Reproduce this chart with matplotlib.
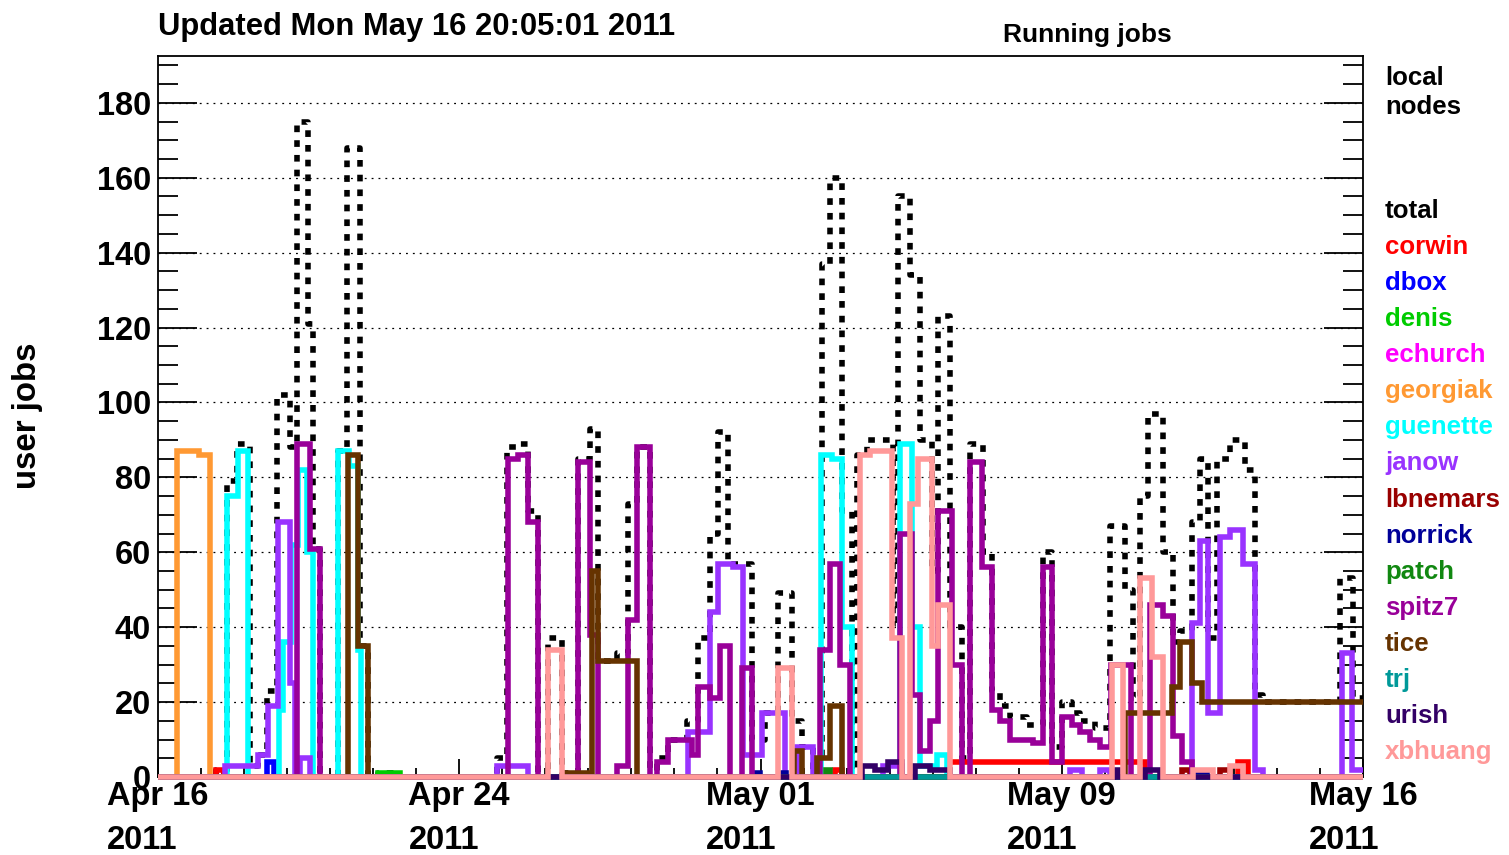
import numpy as np
import matplotlib
matplotlib.use("Agg")
import matplotlib.pyplot as plt
import matplotlib.dates as mdates
from matplotlib.ticker import FixedLocator, MultipleLocator

plt.rcParams['font.family'] = ['Liberation Sans', 'DejaVu Sans']

# ---------------- data ----------------
START = np.datetime64('2011-04-16T20:05:01')
SPAN_DAYS = 30.0   # plotted range: Apr 16 20:05 -> May 16 20:05
# each series: (days since START, running jobs) step points, value holds until next point

total = [(1.44, 2), (1.64, 0), (1.72, 79), (1.97, 89), (2.29, 3), (2.49, 6), (2.71, 23),
         (2.96, 102), (3.29, 88), (3.46, 175), (3.73, 121), (3.86, 61), (4.03, 0),
         (4.48, 87), (4.71, 168), (5.03, 35), (5.23, 0), (5.48, 1), (6.02, 0),
         (8.44, 5), (8.69, 88), (8.94, 89), (9.21, 71), (9.46, 0), (9.71, 37), (10.06, 1),
         (10.46, 85), (10.76, 93), (10.95, 31), (11.43, 33), (11.70, 73), (11.93, 88),
         (12.25, 0), (12.42, 5), (12.70, 10), (13.17, 15), (13.44, 37), (13.74, 65),
         (13.94, 92), (14.19, 57), (14.79, 10), (15.11, 17), (15.44, 49), (15.78, 15),
         (16.03, 8), (16.31, 0), (16.41, 5), (16.53, 137), (16.73, 160), (17.03, 71),
         (17.28, 0), (17.40, 86), (17.65, 90), (18.30, 40), (18.42, 155), (18.72, 134),
         (18.97, 90), (19.27, 55), (19.42, 123), (19.72, 40), (20.02, 5), (20.22, 89),
         (20.54, 60), (20.76, 23), (20.96, 19), (21.21, 16), (21.63, 14), (22.03, 60),
         (22.26, 8), (22.51, 20), (22.76, 17), (22.95, 15), (23.33, 13), (23.70, 67),
         (24.07, 50), (24.27, 21), (24.45, 75), (24.65, 97), (25.02, 60), (25.27, 36),
         (25.44, 39), (25.74, 68), (25.94, 85), (26.14, 37), (26.36, 85), (26.69, 90),
         (27.06, 82), (27.31, 22), (27.51, 20), (29.43, 53), (29.75, 21)]
corwin = [(1.44, 2), (1.64, 0), (16.85, 2), (17.03, 0), (19.67, 4), (24.57, 0),
          (26.89, 4), (27.14, 0)]
dbox = [(2.71, 4), (2.89, 0)]
denis = [(5.48, 1), (6.02, 0)]
echurch = []
georgiak = [(0.47, 87), (1.02, 86), (1.29, 0)]
guenette = [(1.72, 75), (1.99, 87), (2.24, 0), (3.01, 18), (3.11, 36), (3.31, 62),
            (3.49, 82), (3.71, 60), (3.86, 0), (4.48, 87), (4.76, 83), (4.98, 34),
            (5.05, 0), (16.51, 86), (16.78, 85), (17.03, 40), (17.28, 0), (18.47, 89),
            (18.77, 40), (18.97, 3), (19.39, 6), (19.64, 0)]
janow = [(1.67, 3), (2.49, 6), (2.74, 19), (2.99, 68), (3.29, 25), (3.41, 0), (3.54, 5),
         (3.78, 0), (8.44, 3), (9.21, 0), (13.19, 12), (13.74, 44), (13.94, 57),
         (14.31, 56), (14.56, 6), (15.04, 17), (15.61, 0), (15.91, 8), (16.31, 0),
         (18.05, 3), (18.52, 0), (22.71, 2), (23.00, 0), (23.45, 2), (23.70, 0),
         (25.74, 41), (25.94, 63), (26.14, 17), (26.44, 64), (26.69, 66), (27.01, 57),
         (27.31, 2), (27.51, 0), (29.48, 33), (29.73, 2)]
lbnemars = [(25.49, 2), (25.69, 0), (26.44, 2), (26.69, 0)]
norrick = [(14.86, 1), (14.99, 0), (15.56, 1), (15.64, 0), (25.82, 1), (26.12, 0)]
patch = [(16.63, 2), (16.73, 0)]
spitz7 = [(3.46, 89), (3.78, 61), (4.03, 0), (8.71, 85), (8.96, 86), (9.21, 68), (9.46, 0),
          (10.46, 84), (10.76, 38), (10.95, 0), (11.43, 3), (11.70, 42), (11.93, 88),
          (12.25, 0), (12.42, 4), (12.70, 10), (13.29, 6), (13.44, 24), (13.74, 21),
          (13.99, 35), (14.24, 0), (14.54, 29), (14.79, 0), (16.48, 34), (16.73, 57),
          (16.98, 30), (17.23, 0), (18.47, 65), (18.77, 22), (18.97, 7), (19.22, 15),
          (19.42, 71), (19.77, 30), (20.02, 0), (20.22, 84), (20.51, 56), (20.76, 18),
          (20.96, 15), (21.21, 10), (21.78, 9), (22.03, 56), (22.26, 4), (22.51, 16),
          (22.76, 14), (22.95, 12), (23.20, 10), (23.45, 8), (23.73, 30), (24.22, 0),
          (24.70, 46), (25.02, 43), (25.27, 11), (25.49, 4), (25.74, 0)]
tice = [(4.73, 86), (4.98, 35), (5.23, 0), (10.08, 1), (10.80, 55), (10.95, 31),
        (11.93, 0), (15.83, 7), (16.03, 0), (16.41, 5), (16.73, 19), (17.03, 0),
        (24.07, 17), (25.24, 24), (25.44, 36), (25.74, 25), (25.99, 20)]
trj = []
urish = [(17.53, 3), (17.85, 2), (18.17, 4), (18.52, 0), (18.85, 3), (19.22, 2),
         (19.72, 0), (23.78, 2), (23.90, 0), (24.57, 2), (24.95, 0)]
xbhuang = [(9.71, 34), (10.06, 0), (15.44, 29), (15.78, 0), (17.48, 86), (17.73, 87),
           (18.27, 37), (18.52, 0), (18.72, 73), (18.92, 85), (19.27, 35), (19.42, 46),
           (19.72, 0), (23.75, 30), (24.02, 0), (24.45, 53), (24.75, 32), (25.02, 0),
           (25.77, 2), (26.27, 0), (26.69, 3), (27.01, 0)]

user_names = ['total', 'corwin', 'dbox', 'denis', 'echurch', 'georgiak', 'guenette',
              'janow', 'lbnemars', 'norrick', 'patch', 'spitz7', 'tice', 'trj',
              'urish', 'xbhuang']
user_series = [total, corwin, dbox, denis, echurch, georgiak, guenette, janow, lbnemars,
               norrick, patch, spitz7, tice, trj, urish, xbhuang]
user_colors = ['#000000', '#ff0000', '#0000ff', '#00cc00', '#ff00ff', '#ff9933',
               '#00ffff', '#9933ff', '#990000', '#000099', '#118811', '#990099',
               '#663300', '#009999', '#330066', '#ff9999']

y_ticks = [0, 20, 40, 60, 80, 100, 120, 140, 160, 180]

# ---------------- plot ----------------
W, H = 1509, 855
fig = plt.figure(figsize=(W / 100, H / 100), dpi=100)
ax = fig.add_axes([158 / W, 1 - 777 / H, (1363 - 158) / W, (777 - 56) / H])


def to_dates(days):
    secs = np.round(np.asarray(days, dtype=float) * 86400).astype(np.int64)
    return START + secs.astype('timedelta64[s]')


for name, pts, col in zip(user_names, user_series, user_colors):
    t = [0.0] + [p[0] for p in pts] + [SPAN_DAYS]
    v = [0] + [p[1] for p in pts] + [pts[-1][1] if pts else 0]
    x = mdates.date2num(to_dates(t))
    if name == 'total':
        ax.step(x, v, where='post', color=col, lw=4.0, linestyle=(0, (1.2, 1.45)),
                dash_capstyle='butt', clip_on=False, zorder=3)
    else:
        ax.step(x, v, where='post', color=col, lw=4.0, solid_joinstyle='miter',
                solid_capstyle='butt', clip_on=False, zorder=3)

x0 = mdates.date2num(START)
x1 = mdates.date2num(to_dates([SPAN_DAYS])[0])
ax.set_xlim(x0, x1)
ax.set_ylim(0, 192.5)

major_x = [mdates.date2num(to_dates([k * 7.5])[0]) for k in range(5)]
minor_x = [mdates.date2num(to_dates([k * 7.5 / 7])[0]) for k in range(29)]
ax.xaxis.set_major_locator(FixedLocator(major_x))
ax.xaxis.set_minor_locator(FixedLocator(minor_x))
ax.xaxis.set_major_formatter(mdates.DateFormatter('%b %d\n%Y'))
ax.set_yticks(y_ticks)
ax.set_yticklabels([str(v) for v in y_ticks])
ax.yaxis.set_minor_locator(MultipleLocator(5))

ax.tick_params(axis='y', which='major', direction='in', length=28, width=1.3,
               left=True, right=True, labelsize=23.5, pad=5)
ax.tick_params(axis='y', which='minor', direction='in', length=14.5, width=1.3,
               left=True, right=True)
ax.tick_params(axis='x', which='major', direction='in', length=13, width=1.3,
               bottom=True, top=False, labelsize=23.5, pad=3)
ax.tick_params(axis='x', which='minor', direction='in', length=6.5, width=1.3,
               bottom=True, top=False)
fig.canvas.draw()
for lab in ax.get_xticklabels() + ax.get_yticklabels():
    lab.set_fontweight('bold')
for lab in ax.get_xticklabels():
    lab.set_linespacing(1.55)
    lab.set_multialignment('left')

ax.grid(axis='y', which='major', color='black', lw=0.9, linestyle=(0, (1.5, 4)), zorder=1)
ax.set_axisbelow(True)
for s in ax.spines.values():
    s.set_linewidth(1.3)

fig.text(158 / W, 1 - 35 / H, 'Updated Mon May 16 20:05:01 2011', fontsize=22.3,
         fontweight='bold', ha='left', va='baseline')
fig.text(1087 / W, 1 - 42 / H, 'Running jobs', fontsize=19, fontweight='bold',
         ha='center', va='baseline')
fig.text(28 / W, 1 - 416 / H, 'user jobs', fontsize=23.8, fontweight='bold',
         rotation=90, ha='center', va='center')

fig.text(1385 / W, 1 - 85 / H, 'local', fontsize=18.6, fontweight='bold', ha='left',
         va='baseline', color='black')
fig.text(1385 / W, 1 - 114 / H, 'nodes', fontsize=18.6, fontweight='bold', ha='left',
         va='baseline', color='black')
for k, (name, col) in enumerate(zip(user_names, user_colors)):
    fig.text(1385 / W, 1 - (218 + 36.07 * k) / H, name, fontsize=18.6, fontweight='bold',
             ha='left', va='baseline', color=col)

fig.savefig('out.png', dpi=100)
